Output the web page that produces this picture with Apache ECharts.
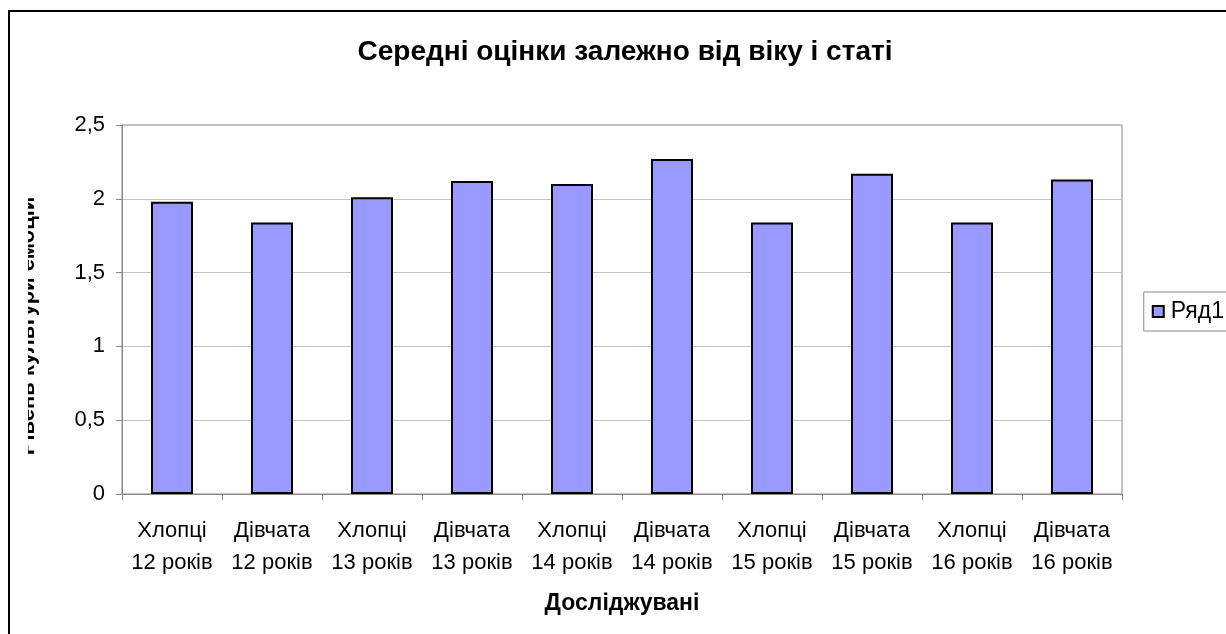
<!DOCTYPE html>
<html>
<head>
<meta charset="utf-8">
<script src="https://cdn.jsdelivr.net/npm/echarts@6/dist/echarts.min.js"></script>
<style>
  html, body { margin: 0; padding: 0; background: #fff; }
  #chart { width: 1226px; height: 634px; }
</style>
</head>
<body>
<div id="chart"></div>
<script>
const categories = [
  'Хлопці\n12 років', 'Дівчата\n12 років',
  'Хлопці\n13 років', 'Дівчата\n13 років',
  'Хлопці\n14 років', 'Дівчата\n14 років',
  'Хлопці\n15 років', 'Дівчата\n15 років',
  'Хлопці\n16 років', 'Дівчата\n16 років'
];
const seriesValues = [1.98, 1.84, 2.01, 2.12, 2.10, 2.27, 1.84, 2.17, 1.84, 2.13];
const seriesName = 'Ряд1';
const chartTitle = 'Середні оцінки залежно від віку і статі';
const xTitle = 'Досліджувані';
const yTitle = 'Рівень культури емоцій';

const font = 'Liberation Sans, Arial, sans-serif';
const chart = echarts.init(document.getElementById('chart'));

const option = {
  backgroundColor: '#fff',
  animation: false,
  title: {
    text: chartTitle,
    left: 620,
    top: 33,
    textAlign: 'center',
    textStyle: { fontFamily: font, fontSize: 28, fontWeight: 'bold', color: '#000' }
  },
  legend: {
    data: [seriesName],
    right: -28,
    top: 292,
    orient: 'vertical',
    itemWidth: 11,
    itemHeight: 11,
    itemGap: 0,
    padding: [8, 30, 8, 8],
    borderColor: '#888',
    borderWidth: 1,
    icon: 'rect',
    textStyle: { fontFamily: font, fontSize: 23, color: '#000', padding: [0, 0, 0, 2] }
  },
  grid: {
    left: 122,
    right: 104,
    top: 125,
    bottom: 140,
    show: true,
    borderColor: '#888',
    borderWidth: 1
  },
  xAxis: {
    type: 'category',
    data: categories,
    name: xTitle,
    nameLocation: 'middle',
    nameGap: 98,
    nameTextStyle: { fontFamily: font, fontSize: 23, fontWeight: 'bold', color: '#000' },
    axisLine: { lineStyle: { color: '#888' } },
    axisTick: { show: true, length: 6, alignWithLabel: false, lineStyle: { color: '#888' } },
    axisLabel: {
      fontFamily: font, fontSize: 22, color: '#000', lineHeight: 32,
      margin: 21, interval: 0
    }
  },
  yAxis: {
    type: 'value',
    min: 0,
    max: 2.5,
    interval: 0.5,
    axisLine: { show: true, lineStyle: { color: '#888' } },
    axisTick: { show: true, length: 6, lineStyle: { color: '#888' } },
    splitLine: { lineStyle: { color: '#c4c4c4', width: 1 } },
    axisLabel: {
      fontFamily: font, fontSize: 22, color: '#000', margin: 17,
      formatter: v => String(v).replace('.', ',')
    }
  },
  graphic: [
    {
      type: 'text',
      x: 28,
      y: 326,
      rotation: Math.PI / 2,
      z: 10,
      style: {
        text: yTitle,
        fontFamily: font, fontSize: 22, fontWeight: 'bold', fill: '#000',
        textAlign: 'center', textVerticalAlign: 'middle'
      }
    },
    {
      type: 'rect',
      z: 11,
      shape: { x: 11, y: 40, width: 17, height: 560 },
      style: { fill: '#fff' }
    },
    {
      type: 'rect',
      z: 12,
      shape: { x: 9, y: 11, width: 1400, height: 800 },
      style: { fill: 'none', stroke: '#000', lineWidth: 2 }
    }
  ],
  series: [{
    name: seriesName,
    type: 'bar',
    data: seriesValues,
    barWidth: '42%',
    itemStyle: { color: '#9999ff', borderColor: '#000', borderWidth: 2 }
  }]
};
chart.setOption(option);
</script>
</body>
</html>
